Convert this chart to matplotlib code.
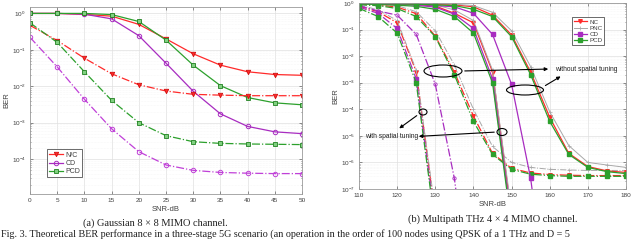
import numpy as np
import matplotlib
matplotlib.use("Agg")
import matplotlib.pyplot as plt
from matplotlib.ticker import LogLocator, NullFormatter, LogFormatterMathtext
from matplotlib.patches import Ellipse

plt.rcParams['font.family'] = ['Liberation Sans', 'DejaVu Sans']
plt.rcParams['mathtext.fontset'] = 'custom'
plt.rcParams['mathtext.rm'] = 'Liberation Sans'

# ---------------- left panel data ----------------
left_snr = [0, 5, 10, 15, 20, 25, 30, 35, 40, 45, 50]
left_nc_solid = [1.0, 1.0, 0.94, 0.84, 0.5, 0.2, 0.078, 0.038, 0.025, 0.021, 0.02]
left_cd_solid = [1.0, 1.0, 0.95, 0.71, 0.245, 0.043, 7.3e-3, 1.75e-3, 7.9e-4, 5.6e-4, 5e-4]
left_pcd_solid = [1.0, 1.0, 1.0, 0.93, 0.6, 0.185, 0.038, 0.0104, 4.9e-3, 3.5e-3, 3.1e-3]
left_nc_dash = [0.47, 0.18, 0.059, 0.022, 0.011, 7.4e-3, 6e-3, 5.7e-3, 5.5e-3, 5.5e-3, 5.5e-3]
left_cd_dash = [0.22, 0.034, 4.4e-3, 6.8e-4, 1.6e-4, 6.9e-5, 4.9e-5, 4.3e-5, 4.1e-5, 4.0e-5, 4.0e-5]
left_pcd_dash = [0.55, 0.16, 0.025, 4.1e-3, 1e-3, 4.4e-4, 3e-4, 2.7e-4, 2.6e-4, 2.55e-4, 2.5e-4]
left_labels = ['N/C', 'CD', 'PCD']

# ---------------- right panel data ----------------
right_snr = [110, 115, 120, 125, 130, 135, 140, 145, 150, 155, 160, 165, 170, 175, 180]
nan = np.nan
# with spatial tuning, first set (dash-dot)
a_nc = [0.77, 0.47, 0.18, 2.6e-3, 1e-8] + [nan] * 10
a_pnc = [0.85, 0.55, 0.22, 3e-3, 1.5e-8] + [nan] * 10
a_cd = [0.7, 0.41, 0.11, 1.4e-3, 6e-9] + [nan] * 10
a_pcd = [0.63, 0.31, 0.074, 1e-3, 4e-9] + [nan] * 10
a_cd_slow = [0.8, 0.5, 0.35, 0.066, 8.7e-4, 2.5e-7, 1e-12] + [nan] * 8
# without spatial tuning, first set (dash-dot)
b_nc = [0.9, 0.85, 0.7, 0.4, 0.057, 2.5e-3, 5.6e-5, 2.2e-6, 6e-7, 4e-7, 3.5e-7, 3.3e-7, 3.2e-7, 3.2e-7, 3.2e-7]
b_pnc = [0.95, 0.9, 0.8, 0.47, 0.09, 4.7e-3, 1e-4, 4e-6, 1e-6, 6.5e-7, 5.5e-7, 5.2e-7, 5e-7, 5e-7, 5e-7]
b_pcd = [0.85, 0.8, 0.62, 0.31, 0.054, 2e-3, 3.5e-5, 2e-6, 5.5e-7, 3.6e-7, 3.2e-7, 3e-7, 3e-7, 3e-7, 3e-7]
# with spatial tuning, second set (solid)
c_nc = [0.97, 0.95, 0.92, 0.88, 0.77, 0.41, 0.18, 2.6e-3, 1e-8] + [nan] * 6
c_pnc = [0.99, 0.98, 0.96, 0.93, 0.85, 0.55, 0.22, 3e-3, 1.5e-8] + [nan] * 6
c_cd = [0.95, 0.92, 0.88, 0.82, 0.7, 0.38, 0.11, 1.4e-3, 6e-9] + [nan] * 6
c_pcd = [0.93, 0.88, 0.83, 0.75, 0.58, 0.31, 0.074, 1e-3, 4e-9] + [nan] * 6
c_cd_slow = [0.97, 0.96, 0.93, 0.9, 0.8, 0.72, 0.41, 0.066, 8.7e-4, 2.5e-7, 1e-12] + [nan] * 4
# without spatial tuning, second set (solid)
d_nc = [0.98, 0.97, 0.96, 0.93, 0.9, 0.85, 0.72, 0.35, 0.063, 2.5e-3, 5e-5, 2.2e-6, 7e-7, 4.8e-7, 4.2e-7]
d_pnc = [1.0, 0.99, 0.98, 0.97, 0.95, 0.9, 0.8, 0.45, 0.09, 4e-3, 8e-5, 4.3e-6, 1e-6, 8e-7, 6.5e-7]
d_pcd = [0.95, 0.93, 0.92, 0.9, 0.85, 0.8, 0.58, 0.31, 0.054, 2e-3, 3.5e-5, 2e-6, 6.5e-7, 4.5e-7, 3.8e-7]
right_labels = ['NC', 'PNC', 'CD', 'PCD']

RED = '#ff2a2a'
GRAY = '#a8a8a8'
PURPLE = '#a82cc0'
PURPLE_L = '#c040d8'
GREEN = '#2ca02c'
TXT = '#404040'

fig = plt.figure(figsize=(6.4, 2.4), dpi=100)


def style_axes(ax):
    ax.set_yscale('log')
    ax.grid(True, which='major', color='#e0e0e0', linewidth=0.5)
    ax.grid(True, which='minor', color='#f0f0f0', linewidth=0.4, linestyle=':')
    ax.yaxis.set_major_locator(LogLocator(base=10, numticks=20))
    ax.yaxis.set_minor_locator(LogLocator(base=10, subs=np.arange(2, 10), numticks=100))
    ax.yaxis.set_minor_formatter(NullFormatter())
    ax.yaxis.set_major_formatter(LogFormatterMathtext())
    ax.tick_params(which='both', direction='in', top=True, right=True,
                   labelsize=4.6, colors=TXT, length=2, width=0.4, pad=3)
    ax.tick_params(which='minor', length=1)
    for s in ax.spines.values():
        s.set_color('#9a9a9a')
        s.set_linewidth(0.6)
    ax.set_axisbelow(True)


# ---------------- left panel ----------------
ax1 = fig.add_axes([30 / 640, 1 - 194 / 240, 272 / 640, 187 / 240])
style_axes(ax1)
lw = 0.9
ms = 3.2
h1, = ax1.plot(left_snr, left_nc_solid, '-', color=RED, lw=lw, marker='v', ms=ms,
               mfc=RED, mec='#d01010', mew=0.6)
h2, = ax1.plot(left_snr, left_cd_solid, '-', color=PURPLE, lw=lw, marker='o', ms=ms,
               mfc='none', mec=PURPLE, mew=0.7)
h3, = ax1.plot(left_snr, left_pcd_solid, '-', color=GREEN, lw=lw, marker='s', ms=ms,
               mfc='#80d080', mec='#208020', mew=0.6)
ax1.plot(left_snr, left_nc_dash, '-.', color=RED, lw=lw, marker='v', ms=ms,
         mfc=RED, mec='#d01010', mew=0.6)
ax1.plot(left_snr, left_cd_dash, '-.', color=PURPLE_L, lw=lw, marker='o', ms=ms,
         mfc='none', mec=PURPLE_L, mew=0.7)
ax1.plot(left_snr, left_pcd_dash, '-.', color=GREEN, lw=lw, marker='s', ms=ms,
         mfc='#80d080', mec='#208020', mew=0.6)
ax1.set_xlim(0, 50)
ax1.set_ylim(1.1e-5, 1.5)
ax1.set_xticks(left_snr)
ax1.set_xlabel('SNR-dB', fontsize=5.5, color=TXT, labelpad=2)
ax1.set_ylabel('BER', fontsize=5.5, color=TXT, labelpad=1)
leg1 = ax1.legend([h1, h2, h3], left_labels, loc='lower left', bbox_to_anchor=(0.05, 0.07),
                  fontsize=5, handlelength=2.0, handletextpad=0.3, borderpad=0.3,
                  labelspacing=0.2, frameon=True, fancybox=False, framealpha=1)
leg1.get_frame().set_edgecolor('#303030')
leg1.get_frame().set_linewidth(0.5)
for t in leg1.get_texts():
    t.set_color(TXT)

# ---------------- right panel ----------------
ax2 = fig.add_axes([359 / 640, 1 - 189 / 240, 267 / 640, 186 / 240])
style_axes(ax2)
lw2 = 0.9
ms2 = 2.6


def plot_set(ax, nc, pnc, cd, pcd, ls):
    r, = ax.plot(right_snr, nc, ls, color=RED, lw=lw2, marker='v', ms=ms2, mfc=RED, mec=RED)
    g, = ax.plot(right_snr, pnc, ls, color=GRAY, lw=0.7, marker='+', ms=2.5, mew=0.5)
    p = None
    if cd is not None:
        p, = ax.plot(right_snr, cd, ls, color=PURPLE, lw=lw2, marker='s', ms=ms2 - 0.4,
                     mfc=PURPLE, mec=PURPLE)
    q, = ax.plot(right_snr, pcd, ls, color=GREEN, lw=lw2, marker='s', ms=ms2 - 0.4,
                 mfc=GREEN, mec=GREEN)
    return r, g, p, q


plot_set(ax2, b_nc, b_pnc, None, b_pcd, '-.')
plot_set(ax2, a_nc, a_pnc, a_cd, a_pcd, '-.')
ax2.plot(right_snr, a_cd_slow, '-.', color=PURPLE, lw=lw2, marker='o', ms=2.4,
         mfc='none', mec=PURPLE, mew=0.6)
r, g, p, q = plot_set(ax2, c_nc, c_pnc, c_cd, c_pcd, '-')
ax2.plot(right_snr, c_cd_slow, '-', color=PURPLE, lw=lw2, marker='s', ms=ms2 - 0.4,
         mfc=PURPLE, mec=PURPLE)
plot_set(ax2, d_nc, d_pnc, None, d_pcd, '-')
ax2.set_xlim(110, 180)
ax2.set_ylim(1e-7, 1)
ax2.set_xticks(np.arange(110, 181, 10))
ax2.set_xlabel('SNR-dB', fontsize=5.5, color=TXT, labelpad=2)
ax2.set_ylabel('BER', fontsize=5.5, color=TXT, labelpad=1)
leg2 = ax2.legend([r, g, p, q], right_labels, loc='upper left', bbox_to_anchor=(0.785, 0.94),
                  fontsize=4.5, handlelength=2.2, handletextpad=0.3, borderpad=0.3,
                  labelspacing=0.15, frameon=True, fancybox=False, framealpha=1)
leg2.get_frame().set_edgecolor('#303030')
leg2.get_frame().set_linewidth(0.5)
for t in leg2.get_texts():
    t.set_color(TXT)

arrow_kw = dict(arrowstyle='-|>', color='black', lw=0.8, mutation_scale=5)


# Ellipses drawn in axes-fraction coordinates to keep true shapes on log axis
def ell_axes(ax, x_px, y_px, w_px, h_px):
    x0, y0 = 359, 189
    cx = (x_px - x0) / 267
    cy = (y0 - y_px) / 186
    ax.add_patch(Ellipse((cx, cy), w_px / 267, h_px / 186, transform=ax.transAxes,
                         fill=False, edgecolor='black', lw=0.8, zorder=5))


ell_axes(ax2, 443, 71, 38, 12)
ell_axes(ax2, 525, 90, 37, 10)
ell_axes(ax2, 423, 112, 8, 6)
ell_axes(ax2, 502, 132, 10, 7)


def px2ax(xp, yp):
    return ((xp - 359) / 267, (189 - yp) / 186)


ax2.annotate('', xy=px2ax(551, 69), xytext=px2ax(462, 71), xycoords='axes fraction',
             textcoords='axes fraction', arrowprops=arrow_kw, zorder=6)
ax2.annotate('', xy=px2ax(563, 75), xytext=px2ax(543, 87), xycoords='axes fraction',
             textcoords='axes fraction', arrowprops=arrow_kw, zorder=6)
ax2.annotate('', xy=px2ax(397, 130), xytext=px2ax(419, 114), xycoords='axes fraction',
             textcoords='axes fraction', arrowprops=arrow_kw, zorder=6)
ax2.annotate('', xy=px2ax(416, 136.5), xytext=px2ax(497, 132), xycoords='axes fraction',
             textcoords='axes fraction', arrowprops=arrow_kw, zorder=6)
ax2.text(*px2ax(555, 69.5), 'without spatial tuning', transform=ax2.transAxes,
         fontsize=4.8, color='#202020', ha='left', va='center')
ax2.text(*px2ax(365, 136.5), 'with spatial tuning', transform=ax2.transAxes,
         fontsize=4.8, color='#202020', ha='left', va='center')

# captions
serif = ['Liberation Serif', 'DejaVu Serif']
fig.text(155 / 640, 1 - 223 / 240, '(a) Gaussian 8 × 8 MIMO channel.', fontsize=7.5,
         family=serif, ha='center', va='center', color='#202020')
fig.text(493 / 640, 1 - 219 / 240, '(b) Multipath THz 4 × 4 MIMO channel.', fontsize=7.5,
         family=serif, ha='center', va='center', color='#202020')
fig.text(0.002, 0.004,
         'Fig. 3. Theoretical BER performance in a three-stage 5G scenario (an operation in the order of 100 nodes using QPSK of a 1 THz and D = 5',
         fontsize=7.3, family=serif, ha='left', va='bottom', color='#202020')

fig.savefig('out.png', dpi=100)
